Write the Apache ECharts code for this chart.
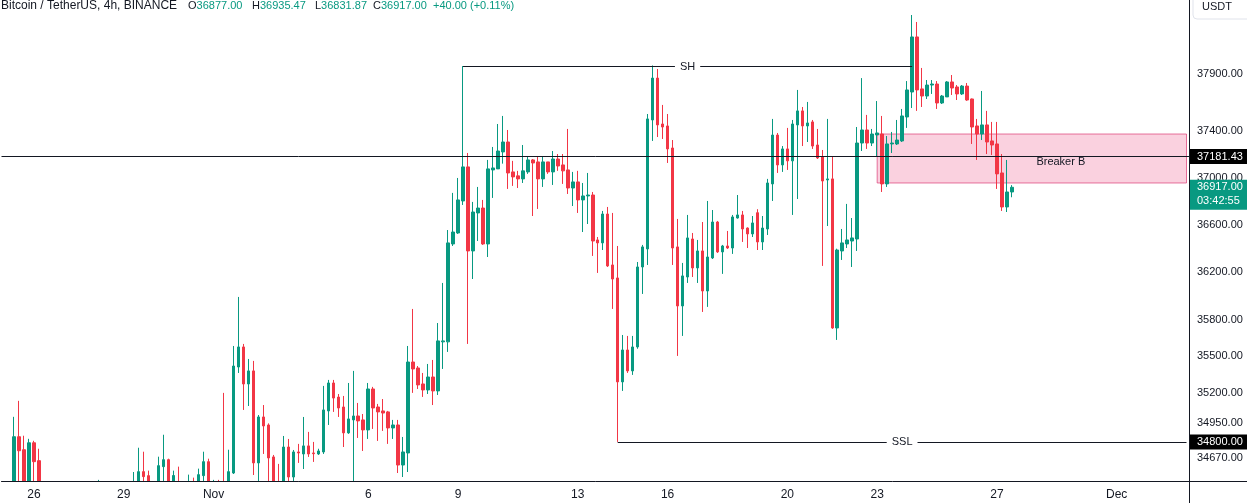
<!DOCTYPE html>
<html><head><meta charset="utf-8">
<script src="https://cdn.jsdelivr.net/npm/echarts@6/dist/echarts.min.js"></script>
<style>html,body{margin:0;padding:0;background:#fff;}#c{width:1247px;height:503px;}</style>
</head><body><div id="c"></div>
<script>
// ---------- DATA (BTC/USDT 4h candles) ----------
const firstCategoryUTC = Date.UTC(2023, 9, 25, 4, 0);
const categoryCount = 238;
const candleOffset = 2;
const opens = [
34400,34842,34737,34440,34793,34649,34430,34300,34250,34120,
34180,34080,34200,34150,34260,34200,34310,34300,34380,34330,
34250,34320,34290,34360,34400,34440,34561,34529,34430,34380,
34601,34657,34440,34470,34420,34380,34450,34400,34529,34641,
34440,34470,34460,34420,34550,35410,35575,35271,35378,34631,
35002,34937,34679,34460,34420,34759,34518,34719,34703,34768,
34711,34703,34719,35051,35279,35164,35083,34873,34978,35010,
34978,34897,35230,35083,35051,35043,34913,34937,34614,34711,
35451,35402,35271,35222,35328,35214,35617,35617,36435,36528,
36800,37092,36376,36698,36740,36435,37066,37075,37221,37307,
37049,37015,36989,37049,37152,37135,36989,37135,37049,37160,
37109,37066,36911,36963,36809,36843,36851,36469,36444,36689,
36258,36149,35288,35550,35378,35575,36241,36393,37498,37864,
37463,37446,37255,36410,35915,36157,36477,36233,36376,36040,
36317,36621,36368,36418,36401,36655,36681,36570,36520,36700,
36452,36562,36946,37367,37109,37247,37144,37455,37577,37446,
37481,37281,37178,36980,36989,35732,36376,36435,36460,36477,
37298,37411,37298,37368,37376,36946,37290,37290,37316,37524,
37742,38227,37769,37707,37803,37812,37646,37699,37830,37786,
37725,37794,37681,37446,37376,37455,37316,37290,37040,36749,
36877];
const closes = [
34842,34729,34440,34793,34641,34430,34300,34250,34120,34180,
34080,34200,34150,34260,34200,34310,34300,34380,34330,34250,
34320,34290,34360,34400,34440,34561,34521,34430,34380,34609,
34657,34440,34530,34420,34380,34450,34400,34537,34641,34440,
34470,34430,34420,34561,35418,35575,35271,35378,34631,35002,
34929,34671,34460,34420,34759,34518,34719,34711,34768,34703,
34705,34727,35059,35279,35156,35075,34873,34986,35010,34970,
34897,35230,35075,35043,35034,34913,34937,34614,34719,35451,
35394,35263,35222,35328,35214,35625,35625,36444,36536,36809,
37092,36376,36706,36740,36435,37075,37083,37229,37307,37040,
37006,36989,37058,37152,37126,36989,37135,37049,37160,37100,
37058,36911,36963,36809,36843,36851,36460,36444,36689,36250,
36140,35288,35550,35378,35575,36241,36410,37507,37864,37455,
37437,37247,36401,35915,36166,36486,36233,36376,36040,36325,
36621,36368,36418,36401,36664,36681,36562,36520,36613,36452,
36570,36954,37367,37109,37247,37144,37463,37577,37446,37472,
37272,37169,36971,36989,35732,36384,36444,36469,36486,37298,
37411,37298,37376,37385,36946,37290,37298,37324,37533,37760,
38227,37760,37707,37803,37812,37646,37707,37830,37777,37725,
37794,37672,37437,37376,37455,37307,37281,37032,36749,36877,
36917];
const lows = [
34330,34420,34380,34400,34450,34380,34180,34150,33950,34050,
33900,34000,34080,34100,34120,34150,34200,34250,34260,34180,
34200,34210,34240,34300,34350,34380,34420,34350,34300,34350,
34450,34380,34400,34350,34300,34330,34350,34360,34450,34400,
34380,34380,34350,34380,34542,35361,35059,35091,34534,34460,
34703,34450,34420,34380,34380,34460,34470,34631,34582,34679,
34639,34695,34703,34937,35043,35002,34759,34865,34460,34832,
34727,34824,34905,34808,34889,34784,34824,34550,34518,34558,
35198,35230,35165,35189,35099,35181,35394,35534,36418,36520,
36766,35600,36140,36460,36427,36325,36826,37075,37120,36903,
36929,36911,36954,37032,36672,36732,36920,37032,36937,37058,
36946,36860,36757,36698,36536,36604,36334,36191,36384,36241,
35890,34800,35214,35361,35345,35560,36015,36258,37316,37350,
37333,37126,36258,35501,35666,36107,36157,36107,35865,35907,
36308,36359,36183,36393,36351,36650,36452,36401,36494,36384,
36384,36511,36800,37040,37049,37066,36681,36817,37272,37307,
37247,37160,36250,36587,35725,35633,36300,36401,36241,36376,
37229,37247,37272,37181,36877,36920,37212,37281,37307,37429,
37602,37577,37611,37681,37725,37594,37637,37699,37716,37672,
37716,37665,37290,37152,37324,37203,37195,36903,36715,36706,
36831.87];
const highs = [
35003,35133,34850,34825,34809,34745,34460,34380,34300,34250,
34220,34260,34280,34330,34310,34380,34420,34495,34430,34400,
34380,34410,34440,34460,34558,34753,34721,34569,34470,34681,
34858,34665,34569,34601,34460,34537,34513,34585,34721,34665,
34495,34495,35198,34737,35583,35990,35600,35476,35460,35018,
35099,34950,34695,34623,34848,34824,34735,34784,35002,34881,
34800,34745,35255,35304,35304,35189,35173,35279,35378,35116,
35026,35279,35247,35108,35148,35051,34978,34978,34840,35583,
35890,35418,35361,35435,35468,35773,36107,36553,36869,36997,
37970,37212,36792,36920,36809,37152,37264,37463,37533,37411,
37144,37058,37281,37186,37160,37186,37178,37135,37229,37203,
37203,37420,37049,37058,36954,37040,36877,36494,36715,36749,
36698,36418,35674,35666,35666,36283,36427,37550,37975,37944,
37629,37550,37324,36647,36275,36681,36528,36469,36621,36800,
36723,36630,36427,36545,36681,36851,36715,36575,36672,36730,
36672,36989,37507,37385,37272,37429,37498,37760,37611,37655,
37498,37420,37238,37507,37178,36395,36562,36775,36655,37437,
37864,37542,37420,37663,37533,37359,37394,37498,37594,37838,
38422,38360,37953,37847,37847,37838,37716,37838,37891,37803,
37803,37821,37685,37507,37751,37577,37481,37481,37203,37152,
36935.47];
const yTickValues = [37900, 37400, 37000, 36600, 36200, 35800, 35500, 35200, 34950, 34670];
const xTicks = [['2023-10-26 04:00','26'],['2023-10-29 04:00','29'],['2023-11-01 04:00','Nov'],
  ['2023-11-06 08:00','6'],['2023-11-09 08:00','9'],['2023-11-13 08:00','13'],['2023-11-16 08:00','16'],
  ['2023-11-20 08:00','20'],['2023-11-23 08:00','23'],['2023-11-27 08:00','27'],['2023-12-01 08:00','Dec']];
const keyLevel = 37181.43;
const swingHigh = 37970, swingHighFrom = '2023-11-09 12:00', swingHighTo = '2023-11-24 12:00';
const sellSide = 34800, sellSideFrom = '2023-11-14 16:00';
const breakerTop = 37376, breakerBottom = 36954, breakerFrom = '2023-11-23 08:00';
const lastPrice = 36917, countdown = '03:42:55';
const header = {name:'Bitcoin / TetherUS, 4h, BINANCE', O:'36877.00', H:'36935.47', L:'36831.87', C:'36917.00', chg:'+40.00 (+0.11%)'};
const yMin = 34482, yMax = 38556;

// ---------- BUILD ----------
const UP = '#089981', DOWN = '#F23645', INK = '#131722';
const FONT = '"Liberation Sans", Arial, sans-serif';
const pad = n => String(n).padStart(2, '0');
const categories = [];
for (let j = 0; j < categoryCount; j++) {
  const d = new Date(firstCategoryUTC + j * 4 * 3600 * 1000);
  categories.push(d.getUTCFullYear() + '-' + pad(d.getUTCMonth() + 1) + '-' + pad(d.getUTCDate()) + ' ' + pad(d.getUTCHours()) + ':00');
}
const tickMap = new Map(xTicks);
const candles = categories.map((c, j) => {
  const i = j - candleOffset;
  return (i >= 0 && i < opens.length) ? [opens[i], closes[i], lows[i], highs[i]] : '-';
});
const lastCat = categories[categories.length - 1];

const chart = echarts.init(document.getElementById('c'));
chart.setOption({
  animation: false,
  textStyle: {fontFamily: FONT},
  grid: {left: 1.5, right: 58, top: 0, bottom: 21.5, containLabel: false},
  xAxis: {
    type: 'category', data: categories, boundaryGap: true, z: 6,
    axisLine: {onZero: false, lineStyle: {color: INK, width: 1}},
    axisTick: {show: false}, splitLine: {show: false},
    axisLabel: {interval: (i, v) => tickMap.has(v), formatter: v => tickMap.get(v) || '',
      color: INK, fontSize: 12, margin: 7, fontFamily: FONT}
  },
  yAxis: {
    type: 'log', logBase: 10, position: 'right', min: yMin, max: yMax, z: 6,
    axisLine: {show: true, lineStyle: {color: INK, width: 1}},
    axisTick: {show: false}, splitLine: {show: false},
    axisLabel: {customValues: yTickValues, formatter: v => Number(v).toFixed(2),
      color: INK, fontSize: 11, margin: 8, align: 'left', fontFamily: FONT}
  },
  series: [{
    type: 'candlestick', data: candles, barWidth: 3, clip: true,
    itemStyle: {color: UP, color0: DOWN, borderColor: UP, borderColor0: DOWN, borderWidth: 1},
    markLine: {
      silent: true, symbol: ['none', 'none'], animation: false,
      lineStyle: {color: INK, width: 1, type: 'solid'},
      label: {show: true, position: 'middle', formatter: '{b}', color: INK, fontSize: 11,
        backgroundColor: '#fff', padding: [1, 5], distance: -7, fontFamily: FONT},
      emphasis: {disabled: true},
      data: [
        {yAxis: keyLevel, name: '', label: {show: false}},
        [{name: 'SH', coord: [swingHighFrom, swingHigh]}, {coord: [swingHighTo, swingHigh]}],
        [{name: 'SSL', coord: [sellSideFrom, sellSide]}, {coord: [lastCat, sellSide]}]
      ]
    },
    markArea: {
      silent: true,
      itemStyle: {color: 'rgba(236,64,122,0.24)', borderColor: 'rgba(222,70,125,0.75)', borderWidth: 1},
      label: {show: true, position: 'inside', color: INK, fontSize: 11, offset: [29, 3], fontFamily: FONT},
      data: [[{name: 'Breaker B', xAxis: breakerFrom, yAxis: breakerTop}, {xAxis: lastCat, yAxis: breakerBottom}]]
    }
  }]
});

const yOf = v => chart.convertToPixel({yAxisIndex: 0}, v);
const AX = 1189;
const g = [];
// clip what falls below the price scale (the area under the time axis line)
g.push({type: 'rect', shape: {x: 0, y: 482, width: 1247, height: 21}, style: {fill: '#fff'}, z: 4, silent: true});
g.push({type: 'line', shape: {x1: AX + 0.5, y1: 0, x2: AX + 0.5, y2: 503}, style: {stroke: INK, lineWidth: 1}, z: 50});
g.push({type: 'line', shape: {x1: AX, y1: 481.5, x2: 1247, y2: 481.5}, style: {stroke: INK, lineWidth: 1}, z: 50});
function tag(v, bg, lines) {
  const y = yOf(v);
  const h = lines.length === 1 ? 15 : 30;
  g.push({type: 'rect', shape: {x: AX + 1, y: y - 7.5, width: 1247 - AX, height: h}, style: {fill: bg}, z: 60});
  lines.forEach((t, i) => g.push({type: 'text', x: 1197, y: y + i * 14, z: 61,
    style: {text: t, fill: '#fff', font: '11px ' + FONT, verticalAlign: 'middle', align: 'left'}}));
}
tag(keyLevel, '#000', [keyLevel.toFixed(2)]);
tag(lastPrice, UP, [lastPrice.toFixed(2), countdown]);
tag(sellSide, '#000', [sellSide.toFixed(2)]);
g.push({type: 'rect', shape: {x: 1193, y: -6, width: 60, height: 25, r: 4}, style: {fill: '#fff', stroke: '#e0e3eb', lineWidth: 1}, z: 60});
g.push({type: 'text', x: 1202, y: 7, z: 61, style: {text: 'USDT', fill: INK, font: '11px ' + FONT, verticalAlign: 'middle'}});
// header
g.push({type: 'text', x: 1, y: 6, z: 70, style: {text: header.name, fill: INK, font: '12px ' + FONT, verticalAlign: 'middle'}});
[['O', header.O, 188], ['H', header.H, 252], ['L', header.L, 315], ['C', header.C, 373]].forEach(([k, v, x]) => {
  g.push({type: 'text', x: x, y: 6, z: 70, style: {text: '{k|' + k + '}{v|' + v + '}', font: '11px ' + FONT, verticalAlign: 'middle',
    rich: {k: {fill: INK, font: '11px ' + FONT}, v: {fill: UP, font: '11px ' + FONT}}}});
});
g.push({type: 'text', x: 433, y: 6, z: 70, style: {text: header.chg, fill: UP, font: '11px ' + FONT, verticalAlign: 'middle'}});
chart.setOption({graphic: g});
</script></body></html>
